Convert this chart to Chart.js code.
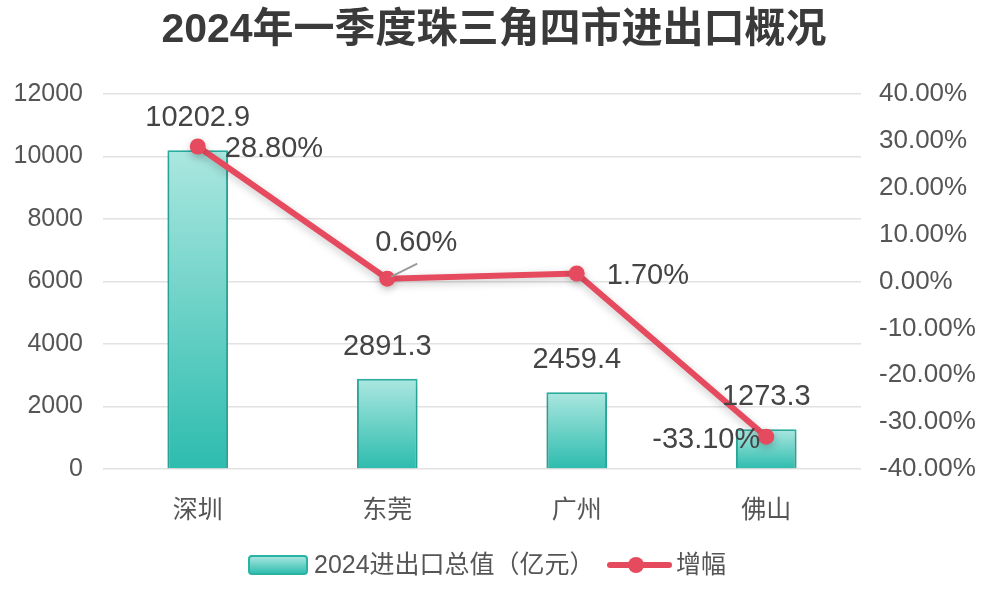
<!DOCTYPE html>
<html><head><meta charset="utf-8">
<script src="https://cdn.jsdelivr.net/npm/chart.js@4"></script>
<style>html,body{margin:0;padding:0;background:#fff}#wrap{width:1000px;height:598px}</style>
</head><body><div id="wrap"><canvas id="c" width="1000" height="598"></canvas></div>
<script>
const titleText = '2024年一季度珠三角四市进出口概况';
const categories = ['深圳', '东莞', '广州', '佛山'];
const totalValues = [10202.9, 2891.3, 2459.4, 1273.3];
const growthValues = [28.8, 0.6, 1.7, -33.1];
const barLabel = '2024进出口总值（亿元）';
const lineLabel = '增幅';

const FONT = '"Liberation Sans", Arial, "Noto Sans CJK SC", sans-serif';
const TEXT = '#444';
const RED = '#e64a5e';

function barGradient(ctx) {
  const chart = ctx.chart;
  const ys = chart.scales && chart.scales.y;
  if (!chart.chartArea || !ys || ctx.type !== 'data') return '#7fd8cd';
  const top = ys.getPixelForValue(ctx.raw);
  const bot = ys.getPixelForValue(0);
  const g = chart.ctx.createLinearGradient(0, top, 0, bot);
  g.addColorStop(0, '#abe7e0');
  g.addColorStop(1, '#2dbcae');
  return g;
}

const overlay = {
  id: 'overlay',
  beforeDatasetDraw(chart, args) {
    const c = chart.ctx;
    c.save();
    c.shadowColor = 'rgba(0,0,0,0.22)';
    c.shadowBlur = 8;
    c.shadowOffsetY = 3;
  },
  afterDatasetDraw(chart) { chart.ctx.restore(); },
  afterDraw(chart) {
    const c = chart.ctx;
    const ys = chart.scales.y, y1 = chart.scales.y1, xs = chart.scales.x;
    c.save();
    // title
    c.fillStyle = '#3a3a3a';
    c.font = 'bold 41px ' + FONT;
    c.textAlign = 'center';
    c.textBaseline = 'middle';
    c.fillText(titleText, 494, 31);
    // bar value labels
    c.font = '29px ' + FONT;
    c.fillStyle = TEXT;
    totalValues.forEach((v, i) => {
      const x = xs.getPixelForValue(i);
      const y = ys.getPixelForValue(v);
      c.textAlign = 'center';
      c.fillText(v.toFixed(1), x, y - 32);
    });
    // growth labels
    const offs = [[27, 2, 'left'], [29, -36, 'center'], [30, 2, 'left'], [-60, 3, 'center']];
    growthValues.forEach((v, i) => {
      const x = xs.getPixelForValue(i);
      const y = y1.getPixelForValue(v);
      const o = offs[i];
      if (i === 1) {
        c.strokeStyle = '#9a9a9a';
        c.lineWidth = 2;
        c.beginPath();
        c.moveTo(x + 4, y - 2);
        c.lineTo(x + 30, y - 15);
        c.stroke();
      }
      c.textAlign = o[2];
      c.fillStyle = TEXT;
      c.fillText(v.toFixed(2) + '%', x + o[0], y + o[1]);
    });
    // legend
    const ly = 565;
    const g = c.createLinearGradient(0, 556, 0, 574);
    g.addColorStop(0, '#abe7e0');
    g.addColorStop(1, '#2dbcae');
    c.fillStyle = g;
    c.strokeStyle = '#2ab3a4';
    c.lineWidth = 2;
    c.beginPath();
    c.roundRect(249, 556, 58, 18, 3);
    c.fill();
    c.stroke();
    c.font = '25px ' + FONT;
    c.fillStyle = '#555';
    c.textAlign = 'left';
    c.fillText(barLabel, 314, ly + 1);
    c.strokeStyle = RED;
    c.lineWidth = 6;
    c.lineCap = 'round';
    c.beginPath();
    c.moveTo(610, ly);
    c.lineTo(669, ly);
    c.stroke();
    c.fillStyle = RED;
    c.beginPath();
    c.arc(636, ly, 8, 0, Math.PI * 2);
    c.fill();
    c.fillStyle = '#555';
    c.font = '25px ' + FONT;
    c.fillText(lineLabel, 676, ly + 1);
    c.restore();
  }
};

new Chart(document.getElementById('c'), {
  data: {
    labels: categories,
    datasets: [
      {
        type: 'line', label: lineLabel, data: growthValues, yAxisID: 'y1', order: 0,
        borderColor: RED, backgroundColor: RED, borderWidth: 6,
        pointRadius: 8, pointHoverRadius: 8, pointBackgroundColor: RED, pointBorderWidth: 0,
        tension: 0
      },
      {
        type: 'bar', label: barLabel, data: totalValues, yAxisID: 'y', order: 1,
        backgroundColor: barGradient, borderColor: '#2ab3a4', borderWidth: 2,
        categoryPercentage: 1, barPercentage: 0.32
      }
    ]
  },
  options: {
    responsive: false,
    animation: false,
    devicePixelRatio: 1,
    layout: { padding: { top: 94, left: 0, right: 0, bottom: 0 } },
    plugins: { legend: { display: false }, title: { display: false }, tooltip: { enabled: false } },
    scales: {
      x: {
        grid: { display: false }, border: { display: false },
        ticks: { color: '#555', font: { family: FONT, size: 25 }, padding: 19 },
        afterFit(s) { s.height = 129; }
      },
      y: {
        position: 'left', min: 0, max: 12000,
        grid: { color: '#e2e2e2', lineWidth: 1.5, drawTicks: false }, border: { display: false },
        ticks: { stepSize: 2000, color: '#555', font: { family: FONT, size: 25 }, padding: 20,
          callback: v => String(v) },
        afterFit(s) { s.width = 103; }
      },
      y1: {
        position: 'right', min: -40, max: 40,
        grid: { display: false, drawTicks: false }, border: { display: false },
        ticks: { stepSize: 10, color: '#555', font: { family: FONT, size: 26 }, padding: 18,
          callback: v => v.toFixed(2) + '%' },
        afterFit(s) { s.width = 139; }
      }
    }
  },
  plugins: [overlay]
});
</script>
</body></html>
